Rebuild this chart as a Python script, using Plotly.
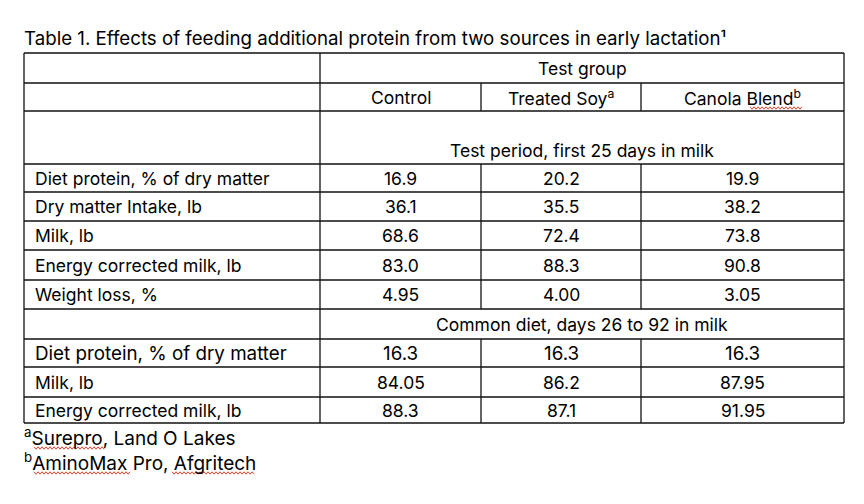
import plotly.graph_objects as go

# ---- table content ----
title = "Table 1. Effects of feeding additional protein from two sources in early lactation\u00b9"
group_header = "Test group"
columns = ["Control", "Treated Soy<sup>a</sup>", "Canola Blend<sup>b</sup>"]

test_section = "Test period, first 25 days in milk"
test_labels = ["Diet protein, % of dry matter", "Dry matter Intake, lb", "Milk, lb",
               "Energy corrected milk, lb", "Weight loss, %"]
test_control = ["16.9", "36.1", "68.6", "83.0", "4.95"]
test_soy = ["20.2", "35.5", "72.4", "88.3", "4.00"]
test_canola = ["19.9", "38.2", "73.8", "90.8", "3.05"]

common_section = "Common diet, days 26 to 92 in milk"
common_labels = ["Diet protein, % of dry matter", "Milk, lb", "Energy corrected milk, lb"]
common_control = ["16.3", "84.05", "88.3"]
common_soy = ["16.3", "86.2", "87.1"]
common_canola = ["16.3", "87.95", "91.95"]

footnotes = ["<sup>a</sup>Surepro, Land O Lakes", "<sup>b</sup>AminoMax Pro, Afgritech"]

# ---- layout of the table (pixel grid, page coordinates) ----
W, H = 864, 504
OFF = 8                          # page body margin around the plot div
FONT = "Inter"
BODY = 17.5
col_edges = [24, 320, 481, 641, 844]
row_edges = [53, 83, 111, 164, 192, 221, 250, 280, 309, 339, 367, 397, 423]
merged_rows = [0, 2, 8]          # rows where columns 1-3 are one cell
common_sizes = [18.8, BODY, BODY]  # first row of the common block is set a bit larger
LINE = dict(color="#111111", width=1.3)
# spell-check squiggles under a few words: (x0, x1, y)
squiggles = [(750, 803, 108), (34, 105, 448), (34, 130, 473), (172, 254, 473)]

fig = go.Figure()
shapes = []
annotations = []

# horizontal rules
for y in row_edges:
    shapes.append(dict(type="line", x0=col_edges[0], x1=col_edges[-1], y0=y, y1=y, line=LINE))
# outer + first column border
for x in (col_edges[0], col_edges[1], col_edges[-1]):
    shapes.append(dict(type="line", x0=x, x1=x, y0=row_edges[0], y1=row_edges[-1], line=LINE))
# inner column borders, broken in merged rows
for x in col_edges[2:4]:
    for r in range(len(row_edges) - 1):
        if r in merged_rows:
            continue
        shapes.append(dict(type="line", x0=x, x1=x, y0=row_edges[r], y1=row_edges[r + 1], line=LINE))

# wavy red underlines
for x0, x1, y in squiggles:
    pts = []
    x, up = x0, True
    while x <= x1:
        pts.append(f"{x},{y - 1.2 if up else y + 1.2}")
        x += 2
        up = not up
    shapes.append(dict(type="path", path="M" + " L".join(pts),
                       line=dict(color="#e0301e", width=0.9)))


def text(x, y, s, anchor="center", size=BODY, yanchor="middle"):
    annotations.append(dict(x=x, y=y, xref="x", yref="y", text=s, showarrow=False,
                            xanchor=anchor, yanchor=yanchor,
                            font=dict(family=FONT, size=size, color="black")))


def row_mid(r):
    return (row_edges[r] + row_edges[r + 1]) / 2


def col_mid(c):
    return (col_edges[c] + col_edges[c + 1]) / 2


span_mid = (col_edges[1] + col_edges[-1]) / 2

text(22, 38, title, anchor="left", size=18.7)
text(span_mid, row_mid(0), group_header)
for c, name in enumerate(columns):
    text(col_mid(c + 1), row_mid(1), name)
text(span_mid, row_edges[3] - 14, test_section)

for i, lab in enumerate(test_labels):
    r = 3 + i
    text(33, row_mid(r), lab, anchor="left")
    for c, vals in enumerate([test_control, test_soy, test_canola]):
        text(col_mid(c + 1), row_mid(r), vals[i])

text(span_mid, row_mid(8), common_section)
for i, lab in enumerate(common_labels):
    r = 9 + i
    text(33, row_mid(r), lab, anchor="left", size=common_sizes[i])
    for c, vals in enumerate([common_control, common_soy, common_canola]):
        text(col_mid(c + 1), row_mid(r), vals[i], size=common_sizes[i])

for i, note in enumerate(footnotes):
    text(22, 437 + 25 * i, note, anchor="left", size=19)

fig.update_layout(
    width=W, height=H,
    margin=dict(l=0, r=0, t=0, b=0),
    paper_bgcolor="white", plot_bgcolor="white",
    xaxis=dict(range=[OFF, W + OFF], visible=False, fixedrange=True),
    yaxis=dict(range=[H + OFF, OFF], visible=False, fixedrange=True),
    shapes=shapes, annotations=annotations, showlegend=False,
)

fig.write_html("out.html")
